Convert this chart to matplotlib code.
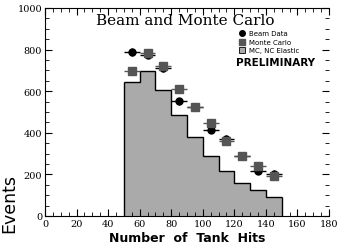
import matplotlib
matplotlib.use("Agg")
import matplotlib.pyplot as plt
import numpy as np
from matplotlib.ticker import MultipleLocator

# bins and values
bin_edges = [50, 60, 70, 80, 90, 100, 110, 120, 130, 140, 150]
nc_elastic = [643, 699, 606, 486, 378, 288, 216, 157, 123, 90]
bin_centers = [55, 65, 75, 85, 95, 105, 115, 125, 135, 145]
beam_data = [787, 775, 710, 551, 525, 415, 370, 287, 218, 202]
monte_carlo = [699, 782, 723, 611, 522, 446, 362, 287, 239, 191]

fig = plt.figure(figsize=(3.46, 2.51), dpi=100)
ax = fig.add_axes([0.130, 0.1355, 0.821, 0.829])

ax.stairs(nc_elastic, bin_edges, fill=True, facecolor='#aaaaaa', edgecolor='none')
ax.stairs(nc_elastic, bin_edges, fill=False, edgecolor='black', linewidth=1, baseline=None)
ax.vlines([bin_edges[0], bin_edges[-1]], 0, [nc_elastic[0], nc_elastic[-1]], color='black', linewidth=1)

# data first, MC drawn on top like in the original
ax.errorbar(bin_centers, beam_data, xerr=5, yerr=18, fmt='o', color='black',
            markersize=5, elinewidth=1, capsize=0)
ax.errorbar(bin_centers, monte_carlo, xerr=5, yerr=12, fmt='s', color='#555555',
            markersize=5.5, elinewidth=1, capsize=0)

ax.set_xlim(0, 180)
ax.set_ylim(0, 1000)
ax.xaxis.set_major_locator(MultipleLocator(20))
ax.xaxis.set_minor_locator(MultipleLocator(5))
ax.yaxis.set_major_locator(MultipleLocator(200))
ax.yaxis.set_minor_locator(MultipleLocator(50))
ax.tick_params(which='both', direction='in', top=True, right=True, labelsize=7, pad=2)
ax.tick_params(which='major', length=5)
ax.tick_params(which='minor', length=3)
ax.spines['right'].set_visible(False)
for lab in ax.get_xticklabels() + ax.get_yticklabels():
    lab.set_family('serif')

ax.set_ylabel('Events', fontsize=12.5)
ax.yaxis.set_label_coords(-0.095, 0.065)
ax.set_xlabel('Number  of  Tank  Hits', fontsize=9, fontweight='bold', labelpad=2)

ax.text(89, 923, 'Beam and Monte Carlo', family='serif', fontsize=11,
        ha='center', va='baseline')

# legend
ax.plot([125], [878], 'o', color='black', markersize=4)
ax.plot([125], [838], 's', color='#555555', markersize=4)
ax.plot([125], [798], 's', color='#aaaaaa', markersize=4, markeredgecolor='black', markeredgewidth=0.6)
ax.text(129, 878, 'Beam Data', fontsize=5, va='center')
ax.text(129, 838, 'Monte Carlo', fontsize=5, va='center')
ax.text(129, 798, 'MC, NC Elastic', fontsize=5, va='center')
ax.text(121, 739, 'PRELIMINARY', fontsize=7.5, fontweight='bold', va='center')

fig.savefig('out.png', dpi=100)
